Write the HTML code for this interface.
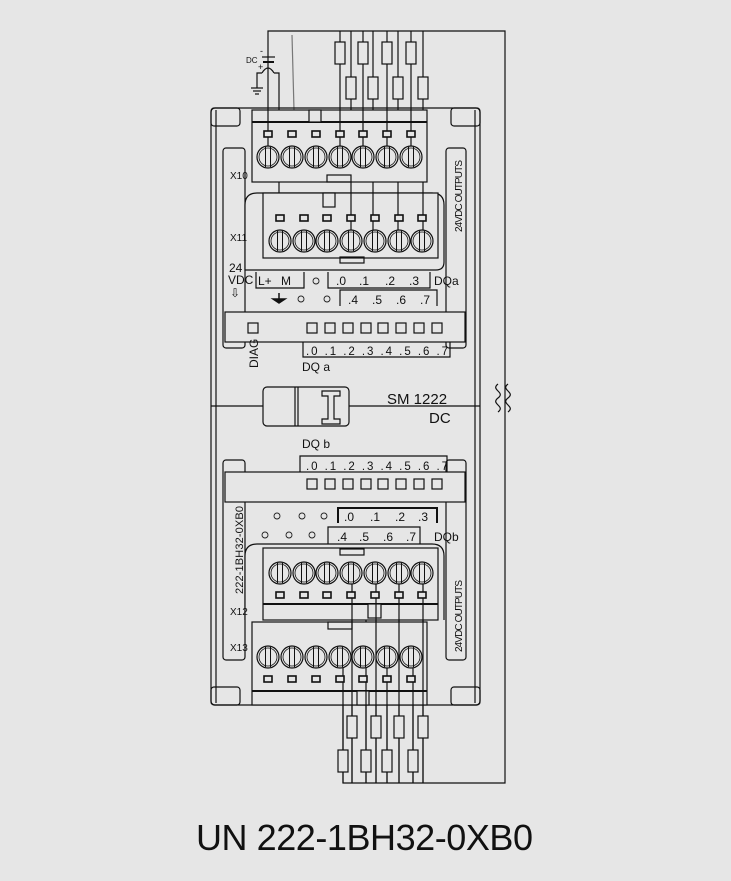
<!DOCTYPE html>
<html><head><meta charset="utf-8"><style>
html,body{margin:0;padding:0;background:#e6e6e6;}
svg{display:block}
text{font-family:"Liberation Sans",sans-serif;fill:#111;}
</style></head><body>
<svg width="731" height="881" viewBox="0 0 731 881" xmlns="http://www.w3.org/2000/svg">
<defs>
<g id="scr"><circle r="11" fill="#e6e6e6" stroke="#111" stroke-width="1.2"/><circle r="9" fill="none" stroke="#111" stroke-width="0.8"/><line x1="-2.5" y1="-10" x2="-2.5" y2="10" stroke="#111" stroke-width="1"/><line x1="2.5" y1="-10" x2="2.5" y2="10" stroke="#111" stroke-width="1"/></g>
<rect id="sq" x="-4" y="-3" width="8" height="6" fill="#e6e6e6" stroke="#111" stroke-width="1.6"/>
<rect id="led" x="-5" y="-5" width="10" height="10" fill="#e6e6e6" stroke="#111" stroke-width="1.2"/>
<rect id="res" x="-5" y="-11" width="10" height="22" fill="#e6e6e6" stroke="#111" stroke-width="1.2"/>
</defs>
<rect width="731" height="881" fill="#e6e6e6"/>
<g stroke="#111" fill="none" stroke-width="1.2">
<polyline points="268,110 268,31 505,31 505,783 343,783 343,700"/>
<line x1="279" y1="75" x2="279" y2="193"/>
<line x1="292" y1="35" x2="294" y2="110" stroke="#777"/>
<line x1="340" y1="31" x2="340" y2="110"/><line x1="351" y1="31" x2="351" y2="193"/>
<line x1="363" y1="31" x2="363" y2="110"/><line x1="373" y1="31" x2="373" y2="193"/>
<line x1="387" y1="31" x2="387" y2="110"/><line x1="398" y1="31" x2="398" y2="193"/>
<line x1="411" y1="31" x2="411" y2="110"/><line x1="423" y1="31" x2="423" y2="193"/>
<!-- battery/ground -->
<line x1="262" y1="57" x2="275" y2="57"/><line x1="263" y1="62" x2="274" y2="62" stroke-width="2"/>
<path d="M262,73 q6,-10 12,0"/>
<polyline points="274,73 279,73 279,75"/><polyline points="262,73 257,73 257,88"/>
<line x1="251" y1="88" x2="263" y2="88"/><line x1="253" y1="91" x2="261" y2="91"/><line x1="255" y1="94" x2="259" y2="94"/>
<line x1="352" y1="620" x2="352" y2="783"/><line x1="366" y1="620" x2="366" y2="783"/>
<line x1="376" y1="620" x2="376" y2="783"/><line x1="387" y1="690" x2="387" y2="783"/>
<line x1="399" y1="620" x2="399" y2="783"/><line x1="413" y1="690" x2="413" y2="783"/>
<line x1="423" y1="620" x2="423" y2="783"/>
<rect x="211" y="108" width="269" height="597" rx="4"/>
<line x1="216" y1="110" x2="216" y2="703"/><line x1="475" y1="110" x2="475" y2="703"/>
<rect x="211" y="108" width="29" height="18" rx="3"/><rect x="451" y="108" width="29" height="18" rx="3"/>
<rect x="211" y="687" width="29" height="18" rx="3"/><rect x="451" y="687" width="29" height="18" rx="3"/>
<rect x="223" y="148" width="22" height="200" rx="3"/><rect x="446" y="148" width="20" height="200" rx="3"/>
<rect x="223" y="460" width="22" height="200" rx="3"/><rect x="446" y="460" width="20" height="200" rx="3"/>
<rect x="252" y="110" width="175" height="72" fill="#e6e6e6"/>
<line x1="252" y1="122" x2="427" y2="122" stroke-width="2"/>
<rect x="309" y="110" width="12" height="12" fill="#e6e6e6"/>
<rect x="327" y="175" width="24" height="7"/>
<path d="M245,270 L245,205 q0,-12 12,-12 L432,193 q12,0 12,12 L444,262 q0,8 -8,8 Z" fill="#e6e6e6"/>
<rect x="263" y="193" width="175" height="65" fill="#e6e6e6"/>
<rect x="323" y="193" width="12" height="14" fill="#e6e6e6"/>
<rect x="340" y="257" width="24" height="6"/>
<polyline points="256,272 256,288 304,288 304,272"/>
<polyline points="328,272 328,288 430,288 430,272"/>
<polyline points="340,306 340,290 437,290 437,306" />
<rect x="225" y="312" width="240" height="30" fill="#e6e6e6"/>
<polyline points="303,342 303,357 450,357 450,342"/>
<line x1="211" y1="406" x2="480" y2="406"/>
<rect x="263" y="387" width="86" height="39" rx="4" fill="#e6e6e6"/>
<line x1="295" y1="387" x2="295" y2="426"/><line x1="298" y1="387" x2="298" y2="426"/>
<path d="M322,391 h18 v5 h-6 v23 h6 v5 h-18 v-5 h6 v-23 h-6 z"/>
<polyline points="300,472 300,456 447,456 447,472"/>
<rect x="225" y="472" width="240" height="30" fill="#e6e6e6"/>
<polyline points="338,523 338,508 437,508 437,523" stroke-width="2"/>
<polyline points="328,545 328,527 420,527 420,545"/>
<path d="M245,620 L245,556 q0,-12 12,-12 L432,544 q12,0 12,12 L444,620" fill="#e6e6e6"/>
<rect x="263" y="548" width="175" height="72" fill="#e6e6e6"/>
<line x1="263" y1="604" x2="438" y2="604" stroke-width="2"/>
<rect x="368" y="604" width="13" height="14" fill="#e6e6e6"/>
<rect x="340" y="549" width="24" height="6"/>
<rect x="252" y="622" width="175" height="83" fill="#e6e6e6"/>
<line x1="252" y1="691" x2="427" y2="691" stroke-width="2"/>
<rect x="328" y="622" width="24" height="7"/>
<rect x="357" y="691" width="12" height="14" fill="#e6e6e6"/>
<line x1="268" y1="110" x2="268" y2="146"/><line x1="340" y1="110" x2="340" y2="146"/>
<line x1="351" y1="193" x2="351" y2="230"/><line x1="373" y1="193" x2="373" y2="230"/>
<line x1="398" y1="193" x2="398" y2="230"/><line x1="423" y1="193" x2="423" y2="230"/>
<line x1="363" y1="110" x2="363" y2="146"/><line x1="387" y1="110" x2="387" y2="146"/><line x1="411" y1="110" x2="411" y2="146"/>
<line x1="352" y1="583" x2="352" y2="783"/><line x1="376" y1="583" x2="376" y2="783"/>
<line x1="399" y1="583" x2="399" y2="783"/><line x1="423" y1="583" x2="423" y2="783"/>
<line x1="366" y1="668" x2="366" y2="783"/><line x1="387" y1="668" x2="387" y2="783"/><line x1="413" y1="668" x2="413" y2="783"/>
<line x1="343" y1="668" x2="343" y2="783"/>
<!-- tilde (rotated ≈) -->
<path d="M498,388 c-8,6 8,8 0,14 c-8,6 8,8 0,14" transform="translate(0,-4)"/>
<path d="M508,388 c-8,6 8,8 0,14 c-8,6 8,8 0,14" transform="translate(0,-4)"/>
</g>
<use href="#res" x="340" y="53"/><use href="#res" x="363" y="53"/><use href="#res" x="387" y="53"/><use href="#res" x="411" y="53"/>
<use href="#res" x="351" y="88"/><use href="#res" x="373" y="88"/><use href="#res" x="398" y="88"/><use href="#res" x="423" y="88"/>
<use href="#res" x="352" y="727"/><use href="#res" x="376" y="727"/><use href="#res" x="399" y="727"/><use href="#res" x="423" y="727"/>
<use href="#res" x="343" y="761"/><use href="#res" x="366" y="761"/><use href="#res" x="387" y="761"/><use href="#res" x="413" y="761"/>
<g><use href="#sq" x="268" y="134"/><use href="#sq" x="292" y="134"/><use href="#sq" x="316" y="134"/><use href="#sq" x="340" y="134"/><use href="#sq" x="363" y="134"/><use href="#sq" x="387" y="134"/><use href="#sq" x="411" y="134"/>
<use href="#scr" x="268" y="157"/><use href="#scr" x="292" y="157"/><use href="#scr" x="316" y="157"/><use href="#scr" x="340" y="157"/><use href="#scr" x="363" y="157"/><use href="#scr" x="387" y="157"/><use href="#scr" x="411" y="157"/></g>
<g><use href="#sq" x="280" y="218"/><use href="#sq" x="304" y="218"/><use href="#sq" x="327" y="218"/><use href="#sq" x="351" y="218"/><use href="#sq" x="375" y="218"/><use href="#sq" x="399" y="218"/><use href="#sq" x="422" y="218"/>
<use href="#scr" x="280" y="241"/><use href="#scr" x="304" y="241"/><use href="#scr" x="327" y="241"/><use href="#scr" x="351" y="241"/><use href="#scr" x="375" y="241"/><use href="#scr" x="399" y="241"/><use href="#scr" x="422" y="241"/></g>
<g><use href="#scr" x="280" y="573"/><use href="#scr" x="304" y="573"/><use href="#scr" x="327" y="573"/><use href="#scr" x="351" y="573"/><use href="#scr" x="375" y="573"/><use href="#scr" x="399" y="573"/><use href="#scr" x="422" y="573"/>
<use href="#sq" x="280" y="595"/><use href="#sq" x="304" y="595"/><use href="#sq" x="327" y="595"/><use href="#sq" x="351" y="595"/><use href="#sq" x="375" y="595"/><use href="#sq" x="399" y="595"/><use href="#sq" x="422" y="595"/></g>
<g><use href="#scr" x="268" y="657"/><use href="#scr" x="292" y="657"/><use href="#scr" x="316" y="657"/><use href="#scr" x="340" y="657"/><use href="#scr" x="363" y="657"/><use href="#scr" x="387" y="657"/><use href="#scr" x="411" y="657"/>
<use href="#sq" x="268" y="679"/><use href="#sq" x="292" y="679"/><use href="#sq" x="316" y="679"/><use href="#sq" x="340" y="679"/><use href="#sq" x="363" y="679"/><use href="#sq" x="387" y="679"/><use href="#sq" x="411" y="679"/></g>
<use href="#led" x="253" y="328"/>
<use href="#led" x="312" y="328"/><use href="#led" x="330" y="328"/><use href="#led" x="348" y="328"/><use href="#led" x="366" y="328"/><use href="#led" x="383" y="328"/><use href="#led" x="401" y="328"/><use href="#led" x="419" y="328"/><use href="#led" x="437" y="328"/>
<use href="#led" x="312" y="484"/><use href="#led" x="330" y="484"/><use href="#led" x="348" y="484"/><use href="#led" x="366" y="484"/><use href="#led" x="383" y="484"/><use href="#led" x="401" y="484"/><use href="#led" x="419" y="484"/><use href="#led" x="437" y="484"/>
<g fill="none" stroke="#222" stroke-width="0.9">
<circle cx="316" cy="281" r="3"/><circle cx="301" cy="299" r="3"/><circle cx="327" cy="299" r="3"/>
<circle cx="277" cy="516" r="3"/><circle cx="302" cy="516" r="3"/><circle cx="324" cy="516" r="3"/>
<circle cx="265" cy="535" r="3"/><circle cx="289" cy="535" r="3"/><circle cx="312" cy="535" r="3"/>
</g>
<path d="M279,293 v6 M273,299 h12 l-6,4 z" stroke="#111" fill="#111" stroke-width="1.5"/>
<g font-size="11">
<text x="230" y="179" font-size="10">X10</text>
<text x="230" y="241" font-size="10">X11</text>
<text x="230" y="615" font-size="10">X12</text>
<text x="230" y="651" font-size="10">X13</text>
<text x="229" y="272" font-size="12">24</text>
<text x="228" y="284" font-size="12">VDC</text>
<text x="230" y="297" font-size="12">⇩</text>
<text x="258" y="285" font-size="12">L+</text><text x="281" y="285" font-size="12">M</text>
<text x="336" y="285" font-size="12">.0</text><text x="359" y="285" font-size="12">.1</text><text x="385" y="285" font-size="12">.2</text><text x="409" y="285" font-size="12">.3</text>
<text x="434" y="285" font-size="12">DQa</text>
<text x="348" y="304" font-size="12">.4</text><text x="372" y="304" font-size="12">.5</text><text x="396" y="304" font-size="12">.6</text><text x="420" y="304" font-size="12">.7</text>
<text x="306" y="355" font-size="11.5" textLength="142">.0 .1 .2 .3 .4 .5 .6 .7</text>
<text x="302" y="371" font-size="12">DQ a</text>
<text transform="translate(258,368) rotate(-90)" font-size="12">DIAG</text>
<text x="387" y="404" font-size="15">SM  1222</text>
<text x="429" y="423" font-size="15">DC</text>
<text x="302" y="448" font-size="12">DQ b</text>
<text x="306" y="470" font-size="11.5" textLength="142">.0 .1 .2 .3 .4 .5 .6 .7</text>
<text x="344" y="521" font-size="12">.0</text><text x="370" y="521" font-size="12">.1</text><text x="395" y="521" font-size="12">.2</text><text x="418" y="521" font-size="12">.3</text>
<text x="337" y="541" font-size="12">.4</text><text x="359" y="541" font-size="12">.5</text><text x="383" y="541" font-size="12">.6</text><text x="406" y="541" font-size="12">.7</text>
<text x="434" y="541" font-size="12">DQb</text>
<text transform="translate(243,594) rotate(-90)" font-size="11" textLength="88">222-1BH32-0XB0</text>
<text transform="translate(462,232) rotate(-90)" font-size="10" textLength="72">24VDC OUTPUTS</text>
<text transform="translate(462,652) rotate(-90)" font-size="10" textLength="72">24VDC OUTPUTS</text>
<text x="246" y="63" font-size="8">DC</text><text x="260" y="54" font-size="9">-</text><text x="258" y="70" font-size="9">+</text>
</g>
<text x="196" y="850" font-size="36" textLength="337" fill="#222">UN 222-1BH32-0XB0</text>
</svg>
</body></html>
